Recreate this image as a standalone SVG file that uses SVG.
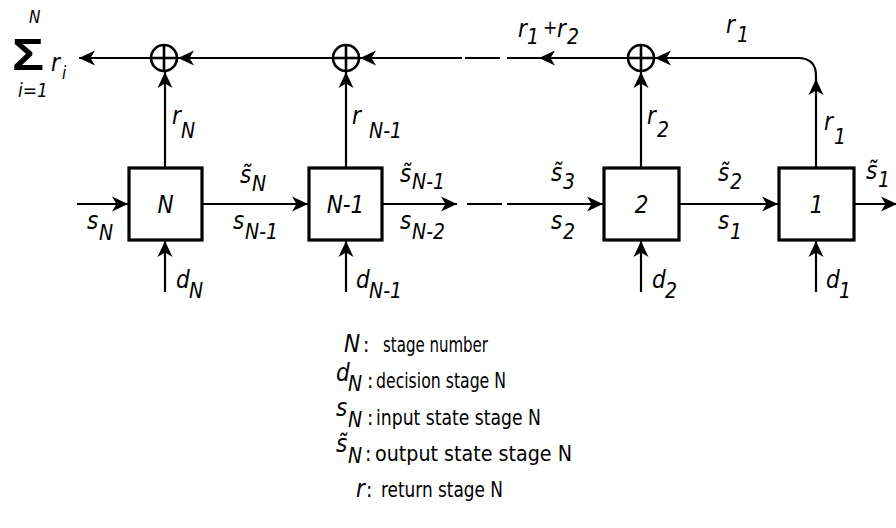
<svg xmlns="http://www.w3.org/2000/svg" width="896" height="528" viewBox="0 0 896 528">
<style>
text{font-family:"DejaVu Sans Condensed","Liberation Sans",sans-serif;fill:#000}
.i{font-style:italic;font-size:24px}
.s{font-style:italic;font-size:21px}
.lg{font-size:21px}
.ln{fill:none;stroke:#000;stroke-width:2.2}
.bx{fill:#fff;stroke:#000;stroke-width:3.2}
.cr{fill:none;stroke:#000;stroke-width:2.6}
</style>
<defs>
<marker id="a" markerUnits="userSpaceOnUse" markerWidth="17" markerHeight="15" refX="16" refY="7.5" orient="auto" overflow="visible">
<path d="M0,0 L16,7.5 L0,15 L4.5,7.5 Z" fill="#000"/>
</marker>
</defs>
<rect width="896" height="528" fill="#fff"/>
<g id="connectors">
<path class="ln" d="M150,58 H79" marker-end="url(#a)"/>
<path class="ln" d="M333,58 H178" marker-end="url(#a)"/>
<path class="ln" d="M462,58 H360" marker-end="url(#a)"/>
<path class="ln" d="M465,58 H500"/>
<path class="ln" d="M628,58 L539,58 L507,58" marker-mid="url(#a)"/>
<path class="ln" d="M816,168 V79" marker-end="url(#a)"/>
<path class="ln" d="M816,81 V76 Q816,58 798,58 H655" marker-end="url(#a)"/>
<path class="ln" d="M165,168 V72" marker-end="url(#a)"/>
<path class="ln" d="M346,168 V72" marker-end="url(#a)"/>
<path class="ln" d="M641,168 V72" marker-end="url(#a)"/>
<path class="ln" d="M77,204 H128" marker-end="url(#a)"/>
<path class="ln" d="M202,204 H308" marker-end="url(#a)"/>
<path class="ln" d="M382,204 H457" marker-end="url(#a)"/>
<path class="ln" d="M467,204 H502"/>
<path class="ln" d="M507,204 H603" marker-end="url(#a)"/>
<path class="ln" d="M679,204 H778" marker-end="url(#a)"/>
<path class="ln" d="M854,204 H897" marker-end="url(#a)"/>
<path class="ln" d="M165,292 V241" marker-end="url(#a)"/>
<path class="ln" d="M346,292 V241" marker-end="url(#a)"/>
<path class="ln" d="M641,292 V241" marker-end="url(#a)"/>
<path class="ln" d="M816,292 V241" marker-end="url(#a)"/>
</g>
<g id="sum-total">
<text x="12" y="70" textLength="32" lengthAdjust="spacingAndGlyphs" style="font-family:'Liberation Sans',sans-serif;font-size:44px;font-weight:bold">Σ</text>
<text class="s" x="29" y="23" style="font-size:17px">N</text>
<text class="s" x="18" y="97" style="font-size:19px">i=1</text>
<text class="i" x="51" y="71">r</text>
<text class="s" x="62" y="79" style="font-size:17px">i</text>
</g>
<g id="sum-N"><circle class="cr" cx="164" cy="58" r="13"/><path class="cr" d="M151,58 H177 M164,45 V71"/></g>
<g id="sum-N-1"><circle class="cr" cx="346" cy="58" r="13"/><path class="cr" d="M333,58 H359 M346,45 V71"/></g>
<g id="sum-2"><circle class="cr" cx="641" cy="58" r="13"/><path class="cr" d="M628,58 H654 M641,45 V71"/></g>
<g id="stage-N"><rect class="bx" x="129" y="168" width="73" height="72"/><text class="i" x="165.5" y="213" text-anchor="middle">N</text></g>
<g id="stage-N-1"><rect class="bx" x="309" y="168" width="73" height="72"/><text class="i" x="345.5" y="213" text-anchor="middle">N-1</text></g>
<g id="stage-2"><rect class="bx" x="604" y="168" width="75" height="72"/><text class="i" x="641.5" y="213" text-anchor="middle">2</text></g>
<g id="stage-1"><rect class="bx" x="779" y="168" width="75" height="72"/><text class="i" x="816.5" y="213" text-anchor="middle">1</text></g>
<g id="labels">
<text class="i" x="518" y="37">r</text><text class="s" x="527" y="44">1</text><text class="i" x="543" y="34" style="font-size:19px">+</text><text class="i" x="557" y="37">r</text><text class="s" x="567" y="44">2</text>
<text class="i" x="726" y="33">r</text><text class="s" x="737" y="42">1</text>
<text class="i" x="172" y="124">r</text><text class="s" x="181" y="138">N</text>
<text class="i" x="352" y="124">r</text><text class="s" x="369" y="138">N-1</text>
<text class="i" x="647" y="124">r</text><text class="s" x="657" y="137">2</text>
<text class="i" x="824" y="130">r</text><text class="s" x="834" y="144">1</text>
<text class="i" x="87" y="229">s</text><text class="s" x="99" y="240">N</text>
<text class="i" x="240" y="183">s̃</text><text class="s" x="252" y="191">N</text>
<text class="i" x="233" y="229">s</text><text class="s" x="245" y="239">N-1</text>
<text class="i" x="400" y="182">s̃</text><text class="s" x="412" y="189">N-1</text>
<text class="i" x="400" y="229">s</text><text class="s" x="412" y="239">N-2</text>
<text class="i" x="551" y="181">s̃</text><text class="s" x="563" y="189">3</text>
<text class="i" x="551" y="229">s</text><text class="s" x="563" y="239">2</text>
<text class="i" x="718" y="181">s̃</text><text class="s" x="730" y="189">2</text>
<text class="i" x="718" y="229">s</text><text class="s" x="730" y="239">1</text>
<text class="i" x="866" y="179">s̃</text><text class="s" x="878" y="187">1</text>
<text class="i" x="176" y="288">d</text><text class="s" x="189" y="298">N</text>
<text class="i" x="356" y="288">d</text><text class="s" x="369" y="298">N-1</text>
<text class="i" x="652" y="288">d</text><text class="s" x="665" y="298">2</text>
<text class="i" x="826" y="288">d</text><text class="s" x="839" y="298">1</text>
</g>
<g id="legend">
<text class="i" x="344" y="352">N</text><text class="lg" x="363" y="352">:</text><text class="lg" x="383" y="352" textLength="105" lengthAdjust="spacingAndGlyphs">stage number</text>
<text class="i" x="336" y="381">d</text><text class="s" x="348" y="391">N</text><text class="lg" x="367" y="388">:</text><text class="lg" x="376" y="388" textLength="130" lengthAdjust="spacingAndGlyphs">decision stage N</text>
<text class="i" x="336" y="416">s</text><text class="s" x="348" y="427">N</text><text class="lg" x="367" y="425">:</text><text class="lg" x="376" y="425" textLength="165" lengthAdjust="spacingAndGlyphs">input state stage N</text>
<text class="i" x="336" y="452">s̃</text><text class="s" x="348" y="463">N</text><text class="lg" x="365" y="461">:</text><text class="lg" x="375" y="461" textLength="197" lengthAdjust="spacingAndGlyphs">output state stage N</text>
<text class="i" x="356" y="497">r</text><text class="lg" x="366" y="497">:</text><text class="lg" x="381" y="497" textLength="122" lengthAdjust="spacingAndGlyphs">return stage N</text>
</g>
</svg>
